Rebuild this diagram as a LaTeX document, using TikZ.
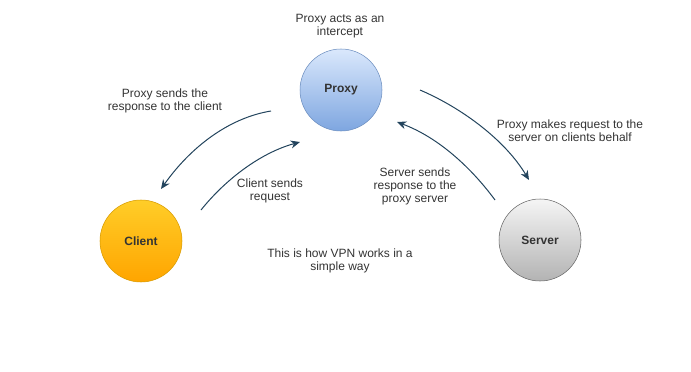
\documentclass[tikz,border=0pt]{standalone}
\usepackage{fontspec}
\setmainfont{Liberation Sans}
\usetikzlibrary{arrows.meta}

\definecolor{proxyline}{HTML}{6C8EBF}
\definecolor{proxytop}{HTML}{DAE8FC}
\definecolor{proxybot}{HTML}{7EA6E0}
\definecolor{clientline}{HTML}{D79B00}
\definecolor{clienttop}{HTML}{FFCD28}
\definecolor{clientbot}{HTML}{FFA500}
\definecolor{serverline}{HTML}{666666}
\definecolor{servertop}{HTML}{F5F5F5}
\definecolor{serverbot}{HTML}{B3B3B3}
\definecolor{flowline}{HTML}{23445D}
\definecolor{notetext}{HTML}{333333}

\tikzset{
  peer/.style={circle, minimum size=61.5pt, inner sep=0pt, font=\fontsize{9}{10}\selectfont\bfseries, text=notetext},
  note/.style={align=center, font=\fontsize{9}{9.75}\selectfont, text=notetext, inner sep=0pt},
  flow/.style={draw=flowline, line width=0.75pt, -{Stealth[length=7pt,width=6pt]}}
}

\begin{document}
\begin{tikzpicture}[x=0.75pt,y=-0.75pt]
	\useasboundingbox (0,0) rectangle (691,371);

	% the three machines
	\node[peer, draw=proxyline, top color=proxytop, bottom color=proxybot] (proxy) at (341,90) {Proxy};
	\node[peer, draw=clientline, top color=clienttop, bottom color=clientbot] (client) at (141,241) {Client};
	\node[peer, draw=serverline, top color=servertop, bottom color=serverbot] (server) at (540,240) {Server};

	% arrow ends
	\coordinate (pc1) at (271,111);
	\coordinate (pc2) at (161,189);
	\coordinate (cp1) at (201,210);
	\coordinate (cp2) at (300,142);
	\coordinate (ps1) at (420,90);
	\coordinate (ps2) at (529,180);
	\coordinate (sp1) at (495,200);
	\coordinate (sp2) at (397,122);

	\draw[flow] (pc1) .. controls (228,118) and (190,148) .. (pc2);
	\draw[flow] (cp1) .. controls (225,180) and (260,153) .. (cp2);
	\draw[flow] (ps1) .. controls (462,108) and (505,140) .. (ps2);
	\draw[flow] (sp1) .. controls (473,170) and (440,138) .. (sp2);

	% labels
	\node[note] (intercept) at (340,26) {Proxy acts as an\\intercept};
	\node[note] (respclient) at (165,101) {Proxy sends the\\response to the client};
	\node[note] (request) at (270,191) {Client sends\\request};
	\node[note] (respproxy) at (415,186) {Server sends\\response to the\\proxy server};
	\node[note] (behalf) at (570,131) {Proxy makes request to the\\server on clients behalf};
	\node[note] (vpn) at (340,261) {This is how VPN works in a\\simple way};
\end{tikzpicture}
\end{document}
